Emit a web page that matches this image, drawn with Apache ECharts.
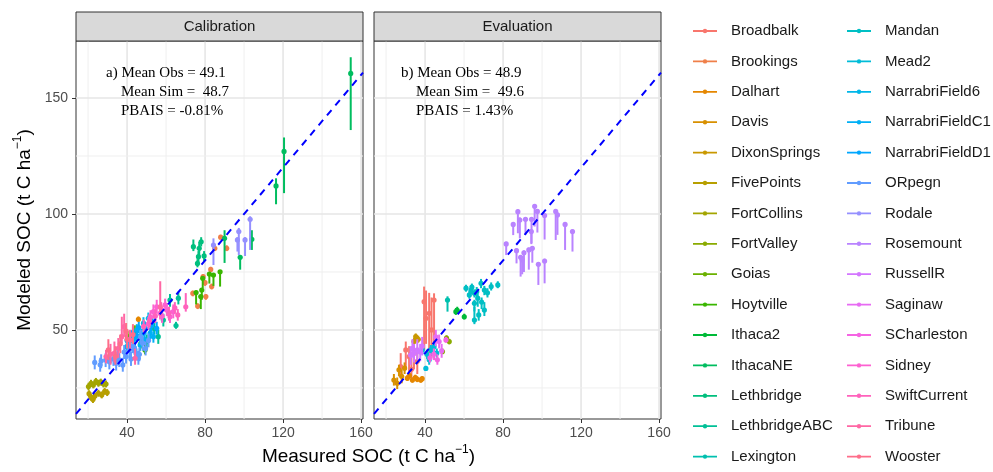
<!DOCTYPE html>
<html><head><meta charset="utf-8">
<script src="https://cdn.jsdelivr.net/npm/echarts@6/dist/echarts.min.js"></script>
<style>html,body{margin:0;padding:0;background:#fff;}#c{width:993px;height:472px;}</style>
</head><body><div id="c"></div>
<script>
// ---- data ----
const sites = ['Broadbalk','Brookings','Dalhart','Davis','DixonSprings','FivePoints','FortCollins','FortValley','Goias','Hoytville','Ithaca2','IthacaNE','Lethbridge','LethbridgeABC','Lexington','Mandan','Mead2','NarrabriField6','NarrabriFieldC1','NarrabriFieldD1','ORpegn','Rodale','Rosemount','RussellR','Saginaw','SCharleston','Sidney','SwiftCurrent','Tribune','Wooster'];
const panels = ['Calibration','Evaluation'];
const xTicks = [40,80,120,160];
const xMinor = [20,60,100,140];
const yTicks = [50,100,150];
const yMinor = [25,75,125];
const xRange = [13.8,161];
const yRange = [11.6,174.6];
const statsA = ['a) Mean Obs = 49.1','Mean Sim =  48.7','PBAIS = -0.81%'];
const statsB = ['b) Mean Obs = 48.9','Mean Sim =  49.6','PBAIS = 1.43%'];
// [siteIndex, measured, modeled, low, high]
const calPoints = [
[5,20.5,22.5,21,24],[5,22.5,20,18.5,21.5],[5,23.5,21.5,20,23],[5,25.3,22.7,21.2,24.2],[5,27,22,20.5,23.5],[5,28.5,23.5,22,25],[5,29.8,23,21.5,24.5],[5,21.5,21,19.5,22.5],
[6,20.2,25.6,24,27.2],[6,21.5,27,25.5,28.5],[6,22.7,26.3,24.8,27.8],[6,24,27.8,26.3,29.3],[6,25.3,27,25.5,28.5],[6,26.5,27.6,26,29],[6,27.9,26.7,25.2,28.2],[6,29.2,26.7,25.2,28.2],
[28,29.2,38.5,35.6,41.4],[28,31.5,39.5,35,44],[28,33.5,40,36,45],[28,35.5,42.1,38,46.5],[28,37.3,47.1,44.3,55.7],[28,38.5,51.4,47,57],[28,41.5,45.7,41,50],[28,44.1,37.8,35,42],[28,57,60,56,71],
[29,30.4,41.4,37,46],[29,36.5,44,40,48],[29,40,46,42,50],[29,43,48,44,52.5],[29,34,38.5,35,43],[29,39.5,49.5,46,53],
[26,53.5,57.9,55,61],[26,56.9,57.2,54.5,60],[26,60.4,58.6,56,61.5],[26,63.7,57.9,55,61],[26,55.2,60,57,63],[26,62,55.7,53,58.5],[26,50.9,52.6,50,55.5],[26,59.5,60.8,58,63.5],[26,52,55.5,52.5,58.5],[26,58,56,53,59],
[27,54.5,56,53,59],[27,57.5,59,56,62],[27,61.5,57,54,60],[27,64.5,59.5,57,62],[27,66,56.5,54,59],[27,70.1,60,57.9,65.9],[27,48.5,51.5,49,54.5],[27,51.5,54,51,57],
[13,66.3,63.7,61,66.5],[13,65.1,51.9,50.5,53.5],[13,58.6,54.3,51.5,57],[13,56,47.1,44,50],[13,50.1,45,42,48],[13,62,62.9,60,65.5],[13,54,50.5,48,53],
[8,40.3,47.1,45,49.5],[8,44,49.5,47,52],
[9,49.2,41.4,39.5,44.5],[9,47,44,42,47],
[2,45.8,54.6,53.5,55.8],
[20,23.4,36,33,39],[20,26.2,35,32,38],[20,26.7,36.6,33.5,39.5],[20,29,37,34,40],[20,30.9,36.3,33,39.5],[20,33,37.5,34.5,40.5],[20,34.4,35.6,32.5,38.5],[20,36,37.1,34,40],[20,37.8,34.9,32,38],[20,39.5,38.5,35.5,41.5],[20,41.2,41.4,38,44.5],[20,42,37.5,34.5,40.5],[20,44.6,40,37,43],[20,45.8,37.8,35,41],[20,46.3,39.5,36.5,42.5],[20,48,44.3,41,47.5],[20,49.5,42,39,45],[20,51,45.5,42.5,48.5],[20,38.5,40.5,37.5,43.5],[20,35,39,36,42],[20,43,43,40,46],[20,47,47,44,50],
[17,39.8,42.8,40,45.5],[17,42.4,47.1,44.5,49.5],[17,45,50,47.5,52.5],[17,46.7,43.5,41,46],[17,48.4,52.9,50,55.5],[17,50.9,55,52.5,57.5],[17,53,53.5,51,56],
[18,41,44.5,42,47],[18,43.5,46,43.5,48.5],[18,47.5,48,45.5,50.5],[18,51.8,48.6,46,51],[18,53.5,47.1,44.5,49.5],[18,44,41.5,39,44],[18,49,46,43.5,48.5],
[19,40,45.5,43,48],[19,46,51,48.5,53.5],[19,49.5,50.5,48,53],[19,52.5,52,49.5,54.5],[19,55.2,50.7,48,53.5],[19,43,49,46.5,51.5],[19,45,47.5,45,50],
[1,88,90,89,91],[1,91.1,85.2,84,86.5],[1,85,85.2,84,86.5],[1,82.9,76.1,75,77.2],[1,83.4,68.7,67.5,70],[1,80,70.4,69,71.5],[1,73.7,65.8,64.5,67],[1,80.4,64.4,63,65.5],[1,76.2,60.3,59,61.5],[1,79,73,72,74],
[12,74,85.9,84,89],[12,77,85.2,82,88],[12,76.6,81.6,79,84],[12,79.5,81.9,79.5,84],[12,76.1,78.7,77,80.5],[12,78,88,86,90],
[9,87.7,75.1,68.7,75.1],[9,84.3,73.7,69,74.5],[9,82.2,74.1,70,75],[9,78.8,72.3,68,73],[9,75.4,66.1,61,67],[9,78.3,67.2,63,68],[9,77.8,64.4,59,65],
[11,154.7,160.6,136.2,167.6],[11,120.5,127,109,133],[11,116.4,112.1,104.2,115.4],[11,90,89.5,78.9,93],[11,98,81.3,76,82],[11,104,89.1,84.5,93],
[21,103.1,97.7,84.5,99],[21,97.3,92.4,82.3,94],[21,100.5,88.8,81.9,90],[21,96.6,88.8,83.8,90],[21,84.3,86.6,78,89.5]
];
const evalPoints = [
[22,87.6,101,91.7,102],[22,85.2,95.5,90.9,96.5],[22,88.6,97.4,89.5,98.5],[22,91.5,97.7,91,98.7],[22,94.6,97.7,87.4,98.7],[22,96.2,103.3,94.6,104.3],[22,97.6,101.1,92,102],[22,101.3,99.3,89,100.3],[22,107,101.1,88.8,102],[22,107.9,99.6,91,100.6],[22,111.8,95.5,84.5,96.5],[22,115.6,92.4,83.8,93.4],[22,81.6,87.1,82.3,88],[22,86.9,84.2,78.7,85.2],[22,89,81.3,73,82.3],[22,90.7,83.3,75,84.3],[22,93.2,84.5,76,85.5],[22,95,85.2,79,86.2],[22,94.5,92.4,87,93.4],[22,98.1,78.3,69.4,79.3],[22,101.3,79.7,70.1,80.7],[22,89.8,80.2,74,81.2],
[15,61,68,66.5,69.5],[15,63.6,67.2,65.5,69],[15,65.3,65.8,64,67.5],[15,67,63.7,60,65.5],[15,68.7,70.1,68,72],[15,70.4,67.2,65,69],[15,73.9,68.7,67,70.5],[15,77.3,69.4,68,71],[15,65.3,61.5,58,63],[15,70.4,58.6,56,62],[15,65.3,54.3,52.5,60],[15,62.7,65.1,63.5,67],[15,66.5,66.5,64.5,68.5],[15,69,62,59,64],[15,72,66,64,68],[15,64,68.5,67,70],[15,67.5,56.5,54,59],
[14,51.5,62.9,57.9,64.5],
[10,55.8,57.9,56.5,59.5],[10,60.1,55.7,54.5,57],[10,56.5,58.5,57,60],
[0,39.5,62.2,41.4,68.7],[0,42.1,57.2,40,66],[0,44.6,62.9,37.1,65.8],[0,40.5,55,44,67],[0,43.3,50,38,64],[0,27.5,34.2,30,40],[0,30.1,41.4,33,45],[0,31.8,38.5,32,43],[0,34.3,40,33,44],[0,36,36.5,31,42],[0,33,33,29,38],
[2,30.9,29.2,28,30.5],[2,33.5,28.4,27.3,29.5],[2,36,28.7,27.5,30],[2,37.8,28.4,27.3,29.5],[2,35,29.5,28.3,30.7],[2,32,30.3,29,31.5],[2,38.5,29,28,30],
[3,25.7,27,24.5,29.5],[3,26.6,32.8,30,35],[3,28,30,27,33],[3,24,28.4,26,31],[3,29.5,33.5,31,36],
[4,35.2,47.1,45.5,48.5],[4,34.3,45,43.5,46.5],[4,36.5,46,44.5,47.5],
[7,52.4,45,43.8,46.2],[7,48.9,40.7,39.5,42],[7,51,46.5,45.3,47.7],
[16,40.4,33.4,32.5,34.5],[16,42.9,41.4,39,43.5],[16,38.6,41.4,39.5,43],[16,42.1,37.1,35,39],[16,44.6,42.8,40.5,45],[16,41,39.5,37.5,41.5],[16,46,40,38,42],
[23,34.3,40,36,44],[23,36,41.4,37,46],[23,32.6,39.2,35,43],[23,37.5,40.5,36.5,44],[23,38.5,43,39,47],[23,33.5,42,38,46],
[24,47.2,45,42,48],[24,48.5,41,38,44],[24,45.5,47,43,50],
[25,46.3,37.1,35,39.5],[25,44.5,39.5,37,42],[25,50.7,45.7,44.5,47],[25,42.5,38,36,40]
];

// ---- ggplot hue palette ----
function hcl(h, c, l) {
  const hr = h * Math.PI / 180, U = c * Math.cos(hr), V = c * Math.sin(hr);
  const Xn = 95.047, Yn = 100, Zn = 108.883;
  const Y = Yn * (l > 8 ? Math.pow((l + 16) / 116, 3) : l / 903.3);
  const t = Xn + 15 * Yn + 3 * Zn, un = 4 * Xn / t, vn = 9 * Yn / t;
  const u = U / (13 * l) + un, v = V / (13 * l) + vn;
  const X = Y * 9 * u / (4 * v), Z = Y * (12 - 3 * u - 20 * v) / (4 * v);
  const x = X / 100, y = Y / 100, z = Z / 100;
  const lin = [3.240479*x - 1.537150*y - 0.498535*z, -0.969256*x + 1.875992*y + 0.041556*z, 0.055648*x - 0.204043*y + 1.057311*z];
  return '#' + lin.map(c0 => {
    let g = c0 <= 0.0031308 ? 12.92 * c0 : 1.055 * Math.pow(c0, 1 / 2.4) - 0.055;
    g = Math.max(0, Math.min(1, g));
    return Math.round(g * 255).toString(16).padStart(2, '0');
  }).join('');
}
const colors = sites.map((s, i) => hcl(15 + 360 * i / sites.length, 100, 65));

// ---- layout ----
const G = [{left: 76, top: 41, width: 287, height: 378}, {left: 374, top: 41, width: 287, height: 378}];

function pointRender(params, api) {
  const p = api.coord([api.value(0), api.value(1)]);
  const a = api.coord([api.value(0), api.value(2)]);
  const b = api.coord([api.value(0), api.value(3)]);
  const color = api.visual('color');
  return {type: 'group', children: [
    {type: 'line', shape: {x1: a[0], y1: a[1], x2: b[0], y2: b[1]}, style: {stroke: color, lineWidth: 2}},
    {type: 'circle', shape: {cx: p[0], cy: p[1], r: 2.6}, style: {fill: color}}
  ]};
}
function gridRender(params, api) {
  const cs = params.coordSys;
  const v = api.value(0), dir = api.value(1), major = api.value(2);
  const style = {stroke: major ? '#E6E6E6' : '#EFEFEF', lineWidth: major ? 1.6 : 1};
  if (dir === 0) {
    const x = api.coord([v, yRange[0]])[0];
    return {type: 'line', shape: {x1: x, y1: cs.y, x2: x, y2: cs.y + cs.height}, style};
  }
  const y = api.coord([xRange[0], v])[1];
  return {type: 'line', shape: {x1: cs.x, y1: y, x2: cs.x + cs.width, y2: y}, style};
}
const gridData = [].concat(
  xTicks.map(v => [v, 0, 1]), xMinor.map(v => [v, 0, 0]),
  yTicks.map(v => [v, 1, 1]), yMinor.map(v => [v, 1, 0]));

const series = [];
[0, 1].forEach(k => {
  series.push({type: 'custom', silent: true, xAxisIndex: k, yAxisIndex: k, renderItem: gridRender, data: gridData, z: 1, encode: {x: -1, y: -1}});
  series.push({type: 'line', xAxisIndex: k, yAxisIndex: k, data: [[xRange[0], xRange[0]], [xRange[1], xRange[1]]], showSymbol: false, symbol: 'none', silent: true, z: 5,
    lineStyle: {color: '#0000FF', width: 2, type: [7, 6]}});
  const pts = k === 0 ? calPoints : evalPoints;
  sites.forEach((s, i) => {
    series.push({type: 'custom', name: s, xAxisIndex: k, yAxisIndex: k, renderItem: pointRender, z: 3, clip: true,
      itemStyle: {color: colors[i]}, encode: {x: 0, y: 1},
      data: pts.filter(p => p[0] === i).map(p => p.slice(1))});
  });
});

const axisTickStyle = {lineStyle: {color: '#333333', width: 1}, length: 4};
const xAxes = [0, 1].map(k => ({type: 'value', gridIndex: k, min: xRange[0], max: xRange[1],
  axisLine: {show: false}, splitLine: {show: false},
  axisTick: Object.assign({show: true, customValues: xTicks}, axisTickStyle),
  axisLabel: {customValues: xTicks, color: '#4D4D4D', fontSize: 14, margin: 7, fontFamily: 'Liberation Sans'}}));
const yAxes = [0, 1].map(k => ({type: 'value', gridIndex: k, min: yRange[0], max: yRange[1],
  axisLine: {show: false}, splitLine: {show: false},
  axisTick: Object.assign({show: k === 0, customValues: yTicks}, axisTickStyle),
  axisLabel: {show: k === 0, customValues: yTicks, color: '#4D4D4D', fontSize: 14, margin: 8, fontFamily: 'Liberation Sans'}}));

const icon = 'path://M0,0 L0.01,0 L0,0.01 Z M24,16 L23.99,16 L24,15.99 Z M0,7.1 L24,7.1 L24,8.9 L0,8.9 Z M9.8,8 A2.2,2.2 0 1,1 14.2,8 A2.2,2.2 0 1,1 9.8,8 Z';
function legendCfg(names, left) {
  return {data: names, left, top: 23, orient: 'vertical', itemWidth: 24, itemHeight: 16, itemGap: 14.4,
    icon, selectedMode: false, padding: 0,
    textStyle: {fontSize: 15, color: '#1A1A1A', padding: [0, 0, 0, 9], lineHeight: 16, fontFamily: 'Liberation Sans'}};
}

const graphics = [];
panels.forEach((p, k) => {
  graphics.push({type: 'rect', shape: {x: G[k].left, y: 12, width: G[k].width, height: 29}, style: {fill: '#D9D9D9', stroke: '#333333', lineWidth: 1}, z: 10});
  graphics.push({type: 'text', x: G[k].left + G[k].width / 2, y: 27, style: {text: p, fill: '#1A1A1A', font: '15px "Liberation Sans"', align: 'center', verticalAlign: 'middle'}, z: 11});
});
[[statsA, 106], [statsB, 401]].forEach(([lines, x0]) => {
  lines.forEach((t, j) => {
    graphics.push({type: 'text', x: j === 0 ? x0 : x0 + 15, y: 73 + j * 19,
      style: {text: t, fill: '#000000', font: '15px "Liberation Serif"', verticalAlign: 'middle'}, z: 12});
  });
});
const titleRich = {a: {fontSize: 19, lineHeight: 26, fill: '#000', fontFamily: 'Liberation Sans'}, s: {fontSize: 12, lineHeight: 26, verticalAlign: 'top', fill: '#000', fontFamily: 'Liberation Sans'}};
graphics.push({type: 'text', x: 368.5, y: 457, style: {text: '{a|Measured SOC (t C ha}{s|−1}{a|)}', rich: titleRich, align: 'center', verticalAlign: 'middle'}, z: 12});
graphics.push({type: 'text', x: 25, y: 230, rotation: Math.PI / 2, style: {text: '{a|Modeled SOC (t C ha}{s|−1}{a|)}', rich: titleRich, align: 'center', verticalAlign: 'middle'}, z: 12});

const chart = echarts.init(document.getElementById('c'), null, {renderer: 'canvas'});
chart.setOption({
  animation: false,
  backgroundColor: '#FFFFFF',
  textStyle: {fontFamily: 'Liberation Sans'},
  grid: G.map(g => Object.assign({show: true, borderColor: '#333333', borderWidth: 1, backgroundColor: '#FFFFFF', containLabel: false}, g)),
  xAxis: xAxes,
  yAxis: yAxes,
  legend: [legendCfg(sites.slice(0, 15), 693), legendCfg(sites.slice(15), 847)],
  series,
  graphic: graphics
});
</script></body></html>
